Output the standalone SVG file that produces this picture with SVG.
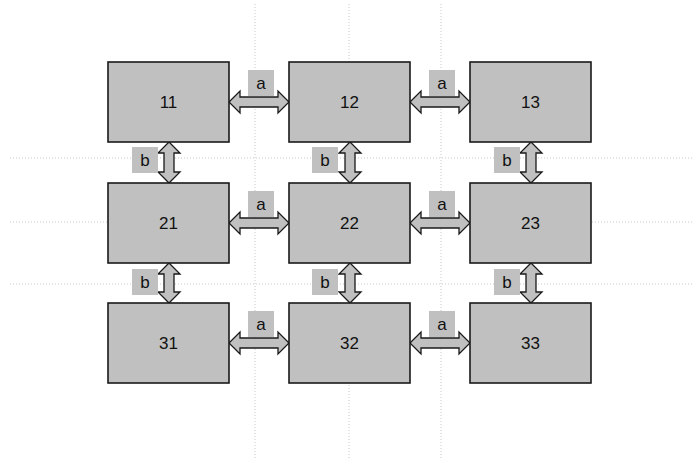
<svg xmlns="http://www.w3.org/2000/svg" width="697" height="458" viewBox="0 0 697 458">
<style>
.grid{stroke:#c8c8c8;stroke-width:1;stroke-dasharray:1,2;fill:none}
.box{fill:#c0c0c0;stroke:#1a1a1a;stroke-width:1.6}
.arr{fill:#c0c0c0;stroke:#1a1a1a;stroke-width:1.3;stroke-linejoin:miter}
.lbl{fill:#c0c0c0;stroke:none}
.t{font-family:"Liberation Sans",Arial,sans-serif;font-size:17px;fill:#111;text-anchor:middle;dominant-baseline:central}
</style>
<rect width="697" height="458" fill="#fff"/>
<g id="grid">
<line class="grid" x1="10" y1="158" x2="692" y2="158"/>
<line class="grid" x1="10" y1="222" x2="692" y2="222"/>
<line class="grid" x1="10" y1="284" x2="692" y2="284"/>
<line class="grid" x1="255" y1="4" x2="255" y2="458"/>
<line class="grid" x1="349" y1="4" x2="349" y2="458"/>
<line class="grid" x1="441" y1="4" x2="441" y2="458"/>
</g>
<g id="connectors">
<path class="arr" d="M229,102 L240,91 L240,97 L278,97 L278,91 L289,102 L278,113 L278,107 L240,107 L240,113 Z"/>
<path class="arr" d="M410,102 L421,91 L421,97 L459,97 L459,91 L470,102 L459,113 L459,107 L421,107 L421,113 Z"/>
<path class="arr" d="M229,223 L240,212 L240,218 L278,218 L278,212 L289,223 L278,234 L278,228 L240,228 L240,234 Z"/>
<path class="arr" d="M410,223 L421,212 L421,218 L459,218 L459,212 L470,223 L459,234 L459,228 L421,228 L421,234 Z"/>
<path class="arr" d="M229,343 L240,332 L240,338 L278,338 L278,332 L289,343 L278,354 L278,348 L240,348 L240,354 Z"/>
<path class="arr" d="M410,343 L421,332 L421,338 L459,338 L459,332 L470,343 L459,354 L459,348 L421,348 L421,354 Z"/>
<path class="arr" d="M169,142 L180,153 L174,153 L174,172 L180,172 L169,183 L158,172 L164,172 L164,153 L158,153 Z"/>
<path class="arr" d="M350,142 L361,153 L355,153 L355,172 L361,172 L350,183 L339,172 L345,172 L345,153 L339,153 Z"/>
<path class="arr" d="M531,142 L542,153 L536,153 L536,172 L542,172 L531,183 L520,172 L526,172 L526,153 L520,153 Z"/>
<path class="arr" d="M169,263 L180,274 L174,274 L174,292 L180,292 L169,303 L158,292 L164,292 L164,274 L158,274 Z"/>
<path class="arr" d="M350,263 L361,274 L355,274 L355,292 L361,292 L350,303 L339,292 L345,292 L345,274 L339,274 Z"/>
<path class="arr" d="M531,263 L542,274 L536,274 L536,292 L542,292 L531,303 L520,292 L526,292 L526,274 L520,274 Z"/>
<rect class="lbl" x="248" y="70" width="26" height="26"/><text class="t" x="261" y="83">a</text>
<rect class="lbl" x="429" y="70" width="26" height="26"/><text class="t" x="442" y="83">a</text>
<rect class="lbl" x="248" y="191" width="26" height="26"/><text class="t" x="261" y="204">a</text>
<rect class="lbl" x="429" y="191" width="26" height="26"/><text class="t" x="442" y="204">a</text>
<rect class="lbl" x="248" y="311" width="26" height="26"/><text class="t" x="261" y="324">a</text>
<rect class="lbl" x="429" y="311" width="26" height="26"/><text class="t" x="442" y="324">a</text>
<rect class="lbl" x="132" y="147" width="26" height="26"/><text class="t" x="145" y="160">b</text>
<rect class="lbl" x="312" y="147" width="26" height="26"/><text class="t" x="325" y="160">b</text>
<rect class="lbl" x="494" y="147" width="26" height="26"/><text class="t" x="507" y="160">b</text>
<rect class="lbl" x="132" y="269" width="26" height="26"/><text class="t" x="145" y="282">b</text>
<rect class="lbl" x="312" y="269" width="26" height="26"/><text class="t" x="325" y="282">b</text>
<rect class="lbl" x="494" y="269" width="26" height="26"/><text class="t" x="507" y="282">b</text>
</g>
<g id="n11"><rect class="box" x="108" y="62" width="121" height="80"/><text class="t" x="168.5" y="102">11</text></g>
<g id="n12"><rect class="box" x="289" y="62" width="121" height="80"/><text class="t" x="349.5" y="102">12</text></g>
<g id="n13"><rect class="box" x="470" y="62" width="121" height="80"/><text class="t" x="530.5" y="102">13</text></g>
<g id="n21"><rect class="box" x="108" y="183" width="121" height="80"/><text class="t" x="168.5" y="223">21</text></g>
<g id="n22"><rect class="box" x="289" y="183" width="121" height="80"/><text class="t" x="349.5" y="223">22</text></g>
<g id="n23"><rect class="box" x="470" y="183" width="121" height="80"/><text class="t" x="530.5" y="223">23</text></g>
<g id="n31"><rect class="box" x="108" y="303" width="121" height="80"/><text class="t" x="168.5" y="343">31</text></g>
<g id="n32"><rect class="box" x="289" y="303" width="121" height="80"/><text class="t" x="349.5" y="343">32</text></g>
<g id="n33"><rect class="box" x="470" y="303" width="121" height="80"/><text class="t" x="530.5" y="343">33</text></g>
</svg>
